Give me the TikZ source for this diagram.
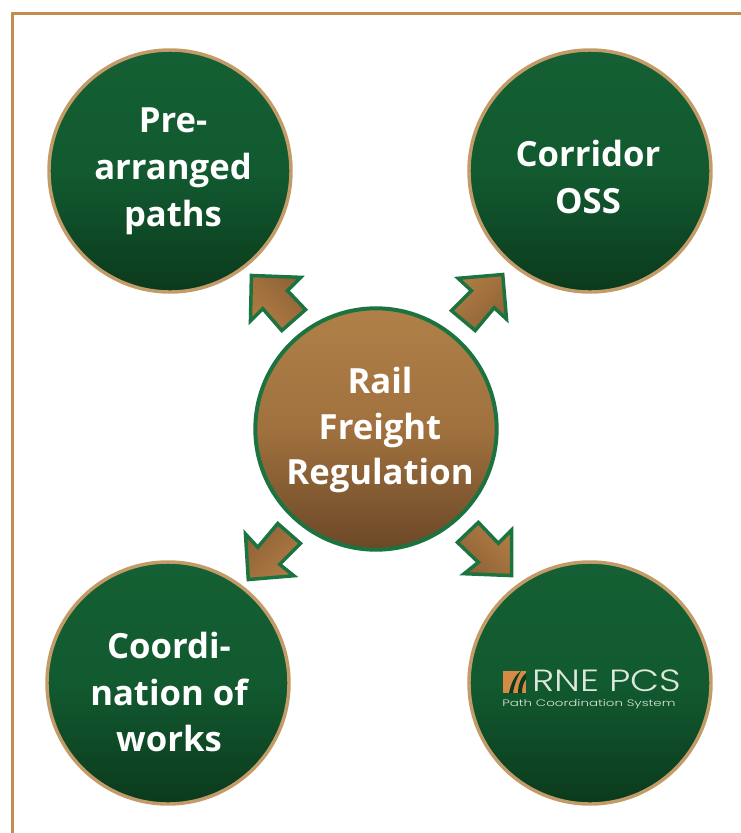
\documentclass[tikz,border=0pt]{standalone}
\usepackage{fontspec}
\setmainfont{Open Sans}
\newfontfamily\logofont{Poppins Light}
\usetikzlibrary{shadings}
\definecolor{frameC}{HTML}{C08F50}
\definecolor{greenT}{HTML}{145F33}
\definecolor{greenM}{HTML}{125A30}
\definecolor{greenB}{HTML}{0B3A1C}
\definecolor{ringC}{HTML}{C29B68}
\definecolor{brownT}{HTML}{B08048}
\definecolor{brownM}{HTML}{A0713E}
\definecolor{brownB}{HTML}{6B4828}
\definecolor{arrowD}{HTML}{8F6236}
\definecolor{arrowL}{HTML}{B07C44}
\definecolor{ringG}{HTML}{1B7340}
\definecolor{logoC}{HTML}{DDE8DC}
\definecolor{logoO}{HTML}{D68A45}
\tikzset{
 x=0.75pt,y=-0.75pt,
 goal/.style={circle,draw=ringC,line width=2.6pt,minimum size=181.5pt,inner sep=0pt,top color=greenT,bottom color=greenB,middle color=greenM},
 hub/.style={circle,draw=ringG,line width=3pt,minimum size=181pt,inner sep=0pt,top color=brownT,bottom color=brownB,middle color=brownM},
 goaltext/.style={text=white,font=\bfseries\fontsize{26}{35.2}\selectfont,align=center},
 hubtext/.style={text=white,font=\bfseries\fontsize{26}{34.2}\selectfont,align=center},
 arrowshape/.style={draw=ringG,line width=2.6pt,line join=miter,shading=axis,left color=arrowD,right color=arrowL},
}
\begin{document}
\begin{tikzpicture}
\useasboundingbox (0,0) rectangle (741,833);
\draw[frameC,line width=2.2pt] (12.5,833) -- (12.5,13.5) -- (741,13.5);
\node[goal] (paths) at (170,171) {};
\node[goal] (oss) at (590,171) {};
\node[goal] (works) at (168,683) {};
\node[goal] (pcs) at (590,683) {};
\node[hub] (hub) at (376,429) {};
\node[goaltext] (pathsT) at (173,171) {Pre-\\arranged\\paths};
\node[goaltext] (ossT) at (588,177) {Corridor\\OSS};
\node[goaltext] (worksT) at (169,692) {Coordi-\\nation of\\works};
\node[hubtext] (hubT) at (380,430) {Rail\\Freight\\Regulation};
\draw[arrowshape,shading angle=-45,scale around={0.95:(278,303)}] (250,274) -- (302,276) -- (288,290) -- (307,310) -- (282,332) -- (262,309) -- (249,322) -- cycle;
\draw[arrowshape,shading angle=225,scale around={0.95:(479,303)}] (504,273) -- (457,277) -- (471,290) -- (450,311) -- (475,332) -- (495,308) -- (508,320) -- cycle;
\draw[arrowshape,shading angle=45,scale around={0.95:(273,552)}] (247,581) -- (244,533) -- (257,547) -- (278,522) -- (302,543) -- (280,565) -- (295,577) -- cycle;
\draw[arrowshape,shading angle=135,scale around={0.95:(485,549)}] (513,577) -- (513,529) -- (499,543) -- (478,521) -- (456,542) -- (478,563) -- (463,575) -- cycle;
% logo
\fill[logoO] (503,671) rectangle (526,693);
\fill[greenB] (509,693) .. controls (511,683) and (515,675) .. (521,671) .. controls (517,678) and (514,685) .. (513,693) -- cycle;
\fill[greenB] (518,693) .. controls (518,685) and (521,677) .. (526,673) -- (526,679) .. controls (523,683) and (522,688) .. (522,693) -- cycle;
\node[anchor=west,inner sep=0pt,text=logoC] (logoA) at (532,681) {\logofont\fontsize{23}{24}\selectfont\scalebox{1.23}[1]{RNE PCS}};
\node[anchor=west,inner sep=0pt,text=logoC] (logoB) at (502,704) {\logofont\fontsize{7}{8}\selectfont\scalebox{1.44}[1]{Path Coordination System}};
\end{tikzpicture}
\end{document}
